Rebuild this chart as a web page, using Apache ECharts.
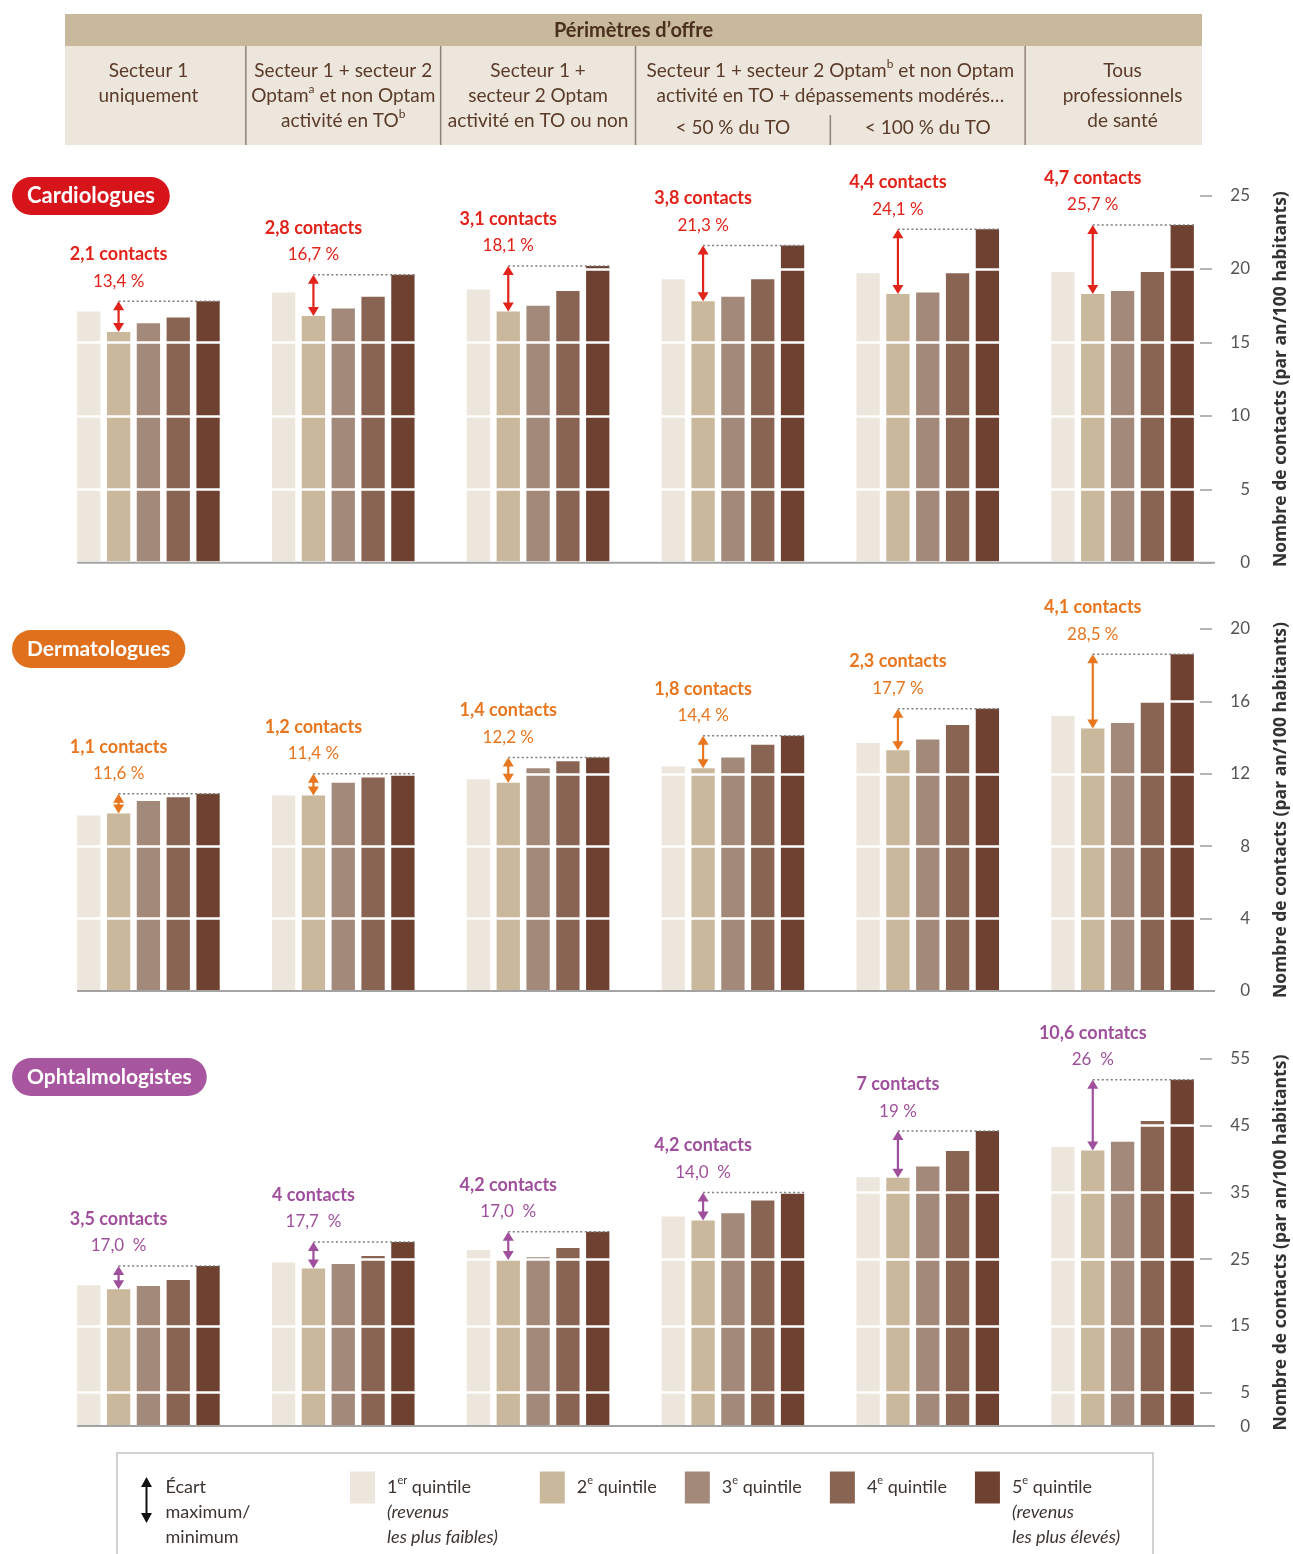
<!DOCTYPE html>
<html lang="fr">
<head>
<meta charset="utf-8">
<title>Nombre de contacts par quintile de revenus et périmètre d'offre</title>
<script src="https://cdn.jsdelivr.net/npm/echarts@6/dist/echarts.min.js"></script>
<style>
  html, body { margin: 0; padding: 0; background: #ffffff; }
  #chart { width: 1293px; height: 1554px; }
</style>
</head>
<body>
<div id="chart"></div>
<script>
// ---- Data -------------------------------------------------------------
const groups = [
  'Secteur 1 uniquement',
  'Secteur 1 + secteur 2 Optam et non Optam activité en TO',
  'Secteur 1 + secteur 2 Optam activité en TO ou non',
  'Dépassements modérés < 50 % du TO',
  'Dépassements modérés < 100 % du TO',
  'Tous professionnels de santé'
];
const quintiles = ['1er quintile', '2e quintile', '3e quintile', '4e quintile', '5e quintile'];

// Contacts per year per 100 inhabitants, one row per income quintile
const cardioValues = [
  [17.1, 18.4, 18.6, 19.3, 19.7, 19.8],
  [15.7, 16.8, 17.1, 17.8, 18.3, 18.3],
  [16.3, 17.3, 17.5, 18.1, 18.4, 18.5],
  [16.7, 18.1, 18.5, 19.3, 19.7, 19.8],
  [17.8, 19.6, 20.2, 21.6, 22.7, 23.0]
];
const cardioContacts = ['2,1 contacts', '2,8 contacts', '3,1 contacts', '3,8 contacts', '4,4 contacts', '4,7 contacts'];
const cardioShares = ['13,4 %', '16,7 %', '18,1 %', '21,3 %', '24,1 %', '25,7 %'];
const cardioTicks = [0, 5, 10, 15, 20, 25];

const dermValues = [
  [9.7, 10.8, 11.7, 12.4, 13.7, 15.2],
  [9.8, 10.8, 11.5, 12.3, 13.3, 14.5],
  [10.5, 11.5, 12.3, 12.9, 13.9, 14.8],
  [10.7, 11.8, 12.7, 13.6, 14.7, 16.0],
  [10.9, 12.0, 12.9, 14.1, 15.6, 18.6]
];
const dermContacts = ['1,1 contacts', '1,2 contacts', '1,4 contacts', '1,8 contacts', '2,3 contacts', '4,1 contacts'];
const dermShares = ['11,6 %', '11,4 %', '12,2 %', '14,4 %', '17,7 %', '28,5 %'];
const dermTicks = [0, 4, 8, 12, 16, 20];

const ophtaValues = [
  [21.1, 24.5, 26.4, 31.4, 37.3, 41.8],
  [20.5, 23.6, 24.9, 30.8, 37.2, 41.3],
  [21.0, 24.3, 25.3, 31.9, 38.9, 42.6],
  [21.9, 25.5, 26.7, 33.8, 41.2, 45.7],
  [24.0, 27.6, 29.1, 35.0, 44.2, 51.9]
];
const ophtaContacts = ['3,5 contacts', '4 contacts', '4,2 contacts', '4,2 contacts', '7 contacts', '10,6 contatcs'];
const ophtaShares = ['17,0  %', '17,7  %', '17,0  %', '14,0  %', '19 %', '26  %'];
const ophtaTicks = [0, 5, 15, 25, 35, 45, 55];

// ---- Styling ----------------------------------------------------------
const FONT = 'Lato, "Open Sans", sans-serif';
const QUINTILE_COLORS = ['#ede6dc', '#c9b89c', '#a3897a', '#8a6453', '#6f4130'];
const AXIS_NAME = 'Nombre de contacts (par an/100 habitants)';
const GAP_NAME = 'Écart maximum/minimum';
const BAR_W = 23.3;
const BAR_GAP = 0.28;
const GRID_LEFT = 51;
const GRID_RIGHT = 73;
const PANEL_BOX = [
  { top: 195.5, height: 367.2 },
  { top: 629, height: 362 },
  { top: 1059, height: 367.1 }
];
const PILL_TOP = [177, 630, 1058];

const panels = [
  { title: 'Cardiologues', pill: '#d7141a', color: '#e2231a',
    values: cardioValues, contacts: cardioContacts, shares: cardioShares, ticks: cardioTicks },
  { title: 'Dermatologues', pill: '#e0701c', color: '#e8761e',
    values: dermValues, contacts: dermContacts, shares: dermShares, ticks: dermTicks },
  { title: 'Ophtalmologistes', pill: '#a8569f', color: '#9f4f9c',
    values: ophtaValues, contacts: ophtaContacts, shares: ophtaShares, ticks: ophtaTicks }
];

// Double-headed arrow between the 2nd and 5th quintile bars, with a dotted
// guide at the highest level and the two labels above it. The first item
// also draws the panel baseline, starting under the first bar.
function renderGap(panel) {
  return function (params, api) {
    const i = api.value(0);
    const base = api.coord([i, api.value(1)]);
    const yHi = api.coord([i, api.value(2)])[1];
    const yLo = base[1];
    const pitch = BAR_W * (1 + BAR_GAP);
    const x = base[0] - pitch;
    const xEnd = base[0] + 2 * pitch + BAR_W / 2;
    const head = Math.min(9, (yLo - yHi) / 2);
    const c = panel.color;
    const children = [
      { type: 'line', shape: { x1: x, y1: yHi, x2: xEnd, y2: yHi },
        style: { stroke: '#7d7d7d', lineWidth: 1.5, lineDash: [2, 2.5] } },
      { type: 'line', shape: { x1: x, y1: yHi + head - 1, x2: x, y2: yLo - head + 1 },
        style: { stroke: c, lineWidth: 2.2 } },
      { type: 'polygon', shape: { points: [[x, yHi], [x - 5.5, yHi + head], [x + 5.5, yHi + head]] },
        style: { fill: c } },
      { type: 'polygon', shape: { points: [[x, yLo], [x - 5.5, yLo - head], [x + 5.5, yLo - head]] },
        style: { fill: c } },
      { type: 'text', x: x, y: yHi - 20,
        style: { text: panel.shares[params.dataIndex], fill: c, font: '17px ' + FONT,
                 align: 'center', verticalAlign: 'middle' } },
      { type: 'text', x: x, y: yHi - 47,
        style: { text: panel.contacts[params.dataIndex], fill: c, font: 'bold 18px ' + FONT,
                 align: 'center', verticalAlign: 'middle' } }
    ];
    if (params.dataIndex === 0) {
      const zero = api.coord([0, 0]);
      const last = api.coord([groups.length - 1, 0]);
      const bandW = api.size([1, 0])[0];
      children.push({
        type: 'line',
        shape: { x1: zero[0] - 2 * pitch - BAR_W / 2, y1: zero[1], x2: last[0] + bandW / 2 - 5, y2: zero[1] },
        style: { stroke: '#a3a3a3', lineWidth: 2 }
      });
    }
    return { type: 'group', children: children };
  };
}

const series = [];
panels.forEach(function (p, k) {
  p.values.forEach(function (vals, q) {
    series.push({
      type: 'bar', name: quintiles[q], xAxisIndex: k, yAxisIndex: k, data: vals,
      barWidth: BAR_W, barGap: (BAR_GAP * 100) + '%',
      itemStyle: { color: QUINTILE_COLORS[q] }, silent: true
    });
  });
  series.push({
    type: 'custom', name: GAP_NAME, xAxisIndex: k, yAxisIndex: k,
    data: groups.map(function (g, i) { return [i, p.values[1][i], p.values[4][i]]; }),
    encode: { x: 0, y: [1, 2] },
    renderItem: renderGap(p), z: 10, silent: true, clip: false,
    itemStyle: { color: '#111' }
  });
});

const legendText = {
  '1er quintile': '\n\n1{sup|er} quintile\n{i|(revenus}\n{i|les plus faibles)}   ',
  '2e quintile': '2{sup|e} quintile',
  '3e quintile': '3{sup|e} quintile',
  '4e quintile': '4{sup|e} quintile',
  '5e quintile': '\n\n5{sup|e} quintile\n{i|(revenus}\n{i|les plus élevés)}'
};
const legendRich = {
  sup: { fontSize: 11, verticalAlign: 'top', fontFamily: FONT, color: '#3d3530', lineHeight: 25 },
  i: { fontStyle: 'italic', fontSize: 18, fontFamily: FONT, color: '#3d3530', lineHeight: 25 }
};

const option = {
  animation: false,
  backgroundColor: '#ffffff',
  textStyle: { fontFamily: FONT },
  title: panels.map(function (p, k) {
    return {
      text: p.title, left: 12, top: PILL_TOP[k],
      backgroundColor: p.pill, borderRadius: 19, padding: [7, 15, 7, 15],
      textStyle: { color: '#ffffff', fontSize: k === 0 ? 22 : 21, fontWeight: 'bold', fontFamily: FONT, lineHeight: 24 }
    };
  }),
  grid: panels.map(function (p, k) {
    return { left: GRID_LEFT, right: GRID_RIGHT, top: PANEL_BOX[k].top, height: PANEL_BOX[k].height,
             outerBoundsMode: 'none', containLabel: false };
  }),
  xAxis: panels.map(function (p, k) {
    return {
      type: 'category', gridIndex: k, data: groups,
      axisLine: { show: false }, axisTick: { show: false }, axisLabel: { show: false }
    };
  }),
  yAxis: panels.map(function (p, k) {
    return {
      type: 'value', gridIndex: k, position: 'right', offset: -20, z: 3,
      min: p.ticks[0], max: p.ticks[p.ticks.length - 1],
      axisLine: { show: false },
      axisTick: { show: true, length: 12, customValues: p.ticks,
                  lineStyle: { color: '#9d9d9d', width: 1.5 } },
      axisLabel: { customValues: p.ticks, align: 'right', margin: 50,
                   color: '#555555', fontSize: 17, fontFamily: FONT },
      splitLine: { show: true, lineStyle: { color: '#ffffff', width: 2.5 } },
      name: AXIS_NAME, nameLocation: 'middle', nameRotate: 90, nameGap: 72,
      nameTextStyle: { color: '#333333', fontSize: 17.5, fontWeight: 'bold', fontFamily: '"Open Sans", sans-serif' }
    };
  }),
  legend: [
    {
      left: 141, top: 1450, padding: 0, selectedMode: false,
      itemWidth: 14, itemHeight: 46,
      data: [{ name: GAP_NAME,
               icon: 'path://M7,0 L12.5,10 L8,10 L8,36 L12.5,36 L7,46 L1.5,36 L6,36 L6,10 L1.5,10 Z',
               itemStyle: { color: '#111111' } }],
      formatter: function () { return '\nÉcart\nmaximum/\nminimum'; },
      textStyle: { fontSize: 18, color: '#3d3530', fontFamily: FONT, lineHeight: 25, padding: [0, 0, 0, 7] }
    },
    {
      left: 350, top: 1425, padding: 0, selectedMode: false,
      itemWidth: 25, itemHeight: 32, itemGap: 28, icon: 'rect',
      data: quintiles,
      formatter: function (name) { return legendText[name]; },
      textStyle: { fontSize: 18, color: '#3d3530', fontFamily: FONT, lineHeight: 25,
                   padding: [0, 0, 0, 7], rich: legendRich }
    }
  ],
  series: series
};

const chart = echarts.init(document.getElementById('chart'), null, { renderer: 'canvas' });
chart.setOption(option);

// ---- Header table, aligned on the category bands ----------------------
const px = function (i) { return chart.convertToPixel({ xAxisIndex: 0 }, i); };
const band = px(1) - px(0);
const edge = function (k) { return px(0) + (k - 0.5) * band; };
const HL = edge(0) + 14;
const HR = edge(groups.length) - 18;
const HEAD_FILL = '#5a3a28';
const supRich = { sup: { fontSize: 12, verticalAlign: 'top', fontFamily: FONT, fill: HEAD_FILL, lineHeight: 25 } };

function headText(x, y, text) {
  return {
    type: 'text', x: x, y: y, silent: true,
    style: { text: text, fill: HEAD_FILL, font: '19px ' + FONT, lineHeight: 25,
             align: 'center', verticalAlign: 'top', rich: supRich }
  };
}
function separator(x, y1, y2) {
  return { type: 'line', silent: true, shape: { x1: x, y1: y1, x2: x, y2: y2 },
           style: { stroke: '#8f8378', lineWidth: 1.5 } };
}

chart.setOption({
  graphic: [
    { type: 'rect', silent: true, shape: { x: HL, y: 14, width: HR - HL, height: 32 }, style: { fill: '#c9b99c' } },
    { type: 'rect', silent: true, shape: { x: HL, y: 46, width: HR - HL, height: 99 }, style: { fill: '#ede6dc' } },
    { type: 'text', silent: true, x: (HL + HR) / 2, y: 31,
      style: { text: 'Périmètres d’offre', fill: '#4a2f1f', font: 'bold 20px ' + FONT,
               align: 'center', verticalAlign: 'middle' } },
    separator(edge(1), 46, 145),
    separator(edge(2), 46, 145),
    separator(edge(3), 46, 145),
    separator(edge(5), 46, 145),
    separator(edge(4), 115, 145),
    headText(px(0), 58, 'Secteur 1\nuniquement'),
    headText(px(1), 58, 'Secteur 1 + secteur 2\nOptam{sup|a} et non Optam\nactivité en TO{sup|b}'),
    headText(px(2), 58, 'Secteur 1 +\nsecteur 2 Optam\nactivité en TO ou non'),
    headText(edge(4), 58, 'Secteur 1 + secteur 2 Optam{sup|b} et non Optam\nactivité en TO + dépassements modérés…'),
    headText(px(3), 115, '< 50 % du TO'),
    headText(px(4), 115, '< 100 % du TO'),
    headText(px(5), 58, 'Tous\nprofessionnels\nde santé'),
    // legend frame
    { type: 'rect', silent: true, shape: { x: 117, y: 1453, width: 1036, height: 140 },
      style: { fill: 'none', stroke: '#c4c4c4', lineWidth: 1.5 } }
  ]
});
</script>
</body>
</html>
